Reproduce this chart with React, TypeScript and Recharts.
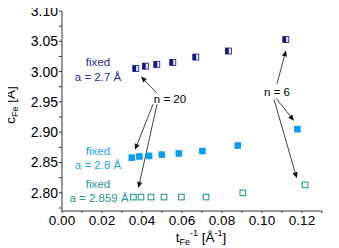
import React from 'react';
import {
  ScatterChart, Scatter, XAxis, YAxis, ReferenceLine, ReferenceDot,
} from 'recharts';

// ---- data ----
const s1X = [0.0369, 0.0417, 0.0474, 0.0554, 0.0669, 0.0832, 0.1119];
const s1Y = [3.005, 3.009, 3.012, 3.015, 3.024, 3.034, 3.053];

const s2X = [0.0349, 0.0387, 0.0435, 0.0499, 0.0584, 0.0702, 0.0879, 0.1177];
const s2Y = [2.858, 2.860, 2.861, 2.863, 2.865, 2.869, 2.878, 2.905];

const s3X = [0.0357, 0.0395, 0.0445, 0.051, 0.0597, 0.072, 0.0904, 0.1215];
const s3Y = [2.793, 2.793, 2.793, 2.793, 2.793, 2.793, 2.800, 2.813];

const xTicks = [0, 0.01, 0.02, 0.03, 0.04, 0.05, 0.06, 0.07, 0.08, 0.09, 0.1, 0.11, 0.12, 0.13];
const yTicks = [2.775, 2.8, 2.825, 2.85, 2.875, 2.9, 2.925, 2.95, 2.975, 3.0, 3.025, 3.05, 3.075, 3.1];

const labelTexts = [
  { x: 0.018, y: 3.0154, text: 'fixed', color: '#1f2a96' },
  { x: 0.018, y: 2.991, text: 'a = 2.7 Å', color: '#1f2a96' },
  { x: 0.018, y: 2.8695, text: 'fixed', color: '#1c9ff0' },
  { x: 0.018, y: 2.8455, text: 'a = 2.8 Å', color: '#1c9ff0' },
  { x: 0.018, y: 2.8148, text: 'fixed', color: '#1f968f' },
  { x: 0.0185, y: 2.7915, text: 'a = 2.859 Å', color: '#1f968f' },
  { x: 0.054, y: 2.955, text: 'n = 20', color: '#000' },
  { x: 0.1075, y: 2.966, text: 'n = 6', color: '#000' },
];

const arrows = [
  { x1: 0.0475, y1: 2.964, x2: 0.0395, y2: 2.992 },
  { x1: 0.0455, y1: 2.946, x2: 0.0365, y2: 2.871 },
  { x1: 0.0475, y1: 2.946, x2: 0.0382, y2: 2.808 },
  { x1: 0.1075, y1: 2.980, x2: 0.112, y2: 3.035 },
  { x1: 0.107, y1: 2.956, x2: 0.116, y2: 2.919 },
  { x1: 0.106, y1: 2.954, x2: 0.1174, y2: 2.824 },
];

const s1 = s1X.map((x, i) => ({ x, y: s1Y[i] }));
const s2 = s2X.map((x, i) => ({ x, y: s2Y[i] }));
const s3 = s3X.map((x, i) => ({ x, y: s3Y[i] }));

const FONT = '"Liberation Sans", Arial, sans-serif';

const HalfSquare = (p: any) => (
  <g>
    <rect x={p.cx - 3} y={p.cy - 3} width={6} height={6} fill="#e6e6ff" stroke="#14148a" strokeWidth={0.8} />
    <rect x={p.cx - 3} y={p.cy - 3} width={3.3} height={6} fill="#14148a" />
  </g>
);
const FilledSquare = (p: any) => (
  <rect x={p.cx - 3.3} y={p.cy - 3.3} width={6.6} height={6.6} fill="#0a9cf7" />
);
const OpenSquare = (p: any) => (
  <rect x={p.cx - 2.8} y={p.cy - 2.8} width={5.6} height={5.6} fill="#fff" stroke="#269a94" strokeWidth={1.1} />
);

const arrowShape = (p: any) => {
  const { x1, y1, x2, y2 } = p;
  const ang = Math.atan2(y2 - y1, x2 - x1);
  const L = 6;
  const W = 2.6;
  const bx = x2 - L * Math.cos(ang);
  const by = y2 - L * Math.sin(ang);
  const nx = -Math.sin(ang);
  const ny = Math.cos(ang);
  return (
    <g>
      <line x1={x1} y1={y1} x2={bx} y2={by} stroke="#111" strokeWidth={0.8} />
      <polygon
        points={`${x2},${y2} ${bx + nx * W},${by + ny * W} ${bx - nx * W},${by - ny * W}`}
        fill="#111"
      />
    </g>
  );
};

const fmtX = (v: number) => (Math.round(v * 100) % 2 === 0 ? v.toFixed(2) : '');
const fmtY = (v: number) => (Math.round(v * 1000) % 50 === 0 ? v.toFixed(2) : '');

export default function App() {
  return (
    <div style={{ width: 339, height: 248, position: 'relative', margin: '-8px 0 0 -8px' }}>
      <ScatterChart width={339} height={248} margin={{ top: 11, right: 17, bottom: 0, left: 8 }}>
        <XAxis
          type="number"
          dataKey="x"
          domain={[0, 0.13]}
          ticks={xTicks}
          interval={0}
          tickFormatter={fmtX}
          height={37}
          tickSize={2}
          tickMargin={2}
          stroke="#333"
          allowDataOverflow
          tick={{ fill: '#000', fontSize: 13.5, fontFamily: FONT }}
        />
        <XAxis
          xAxisId="top"
          orientation="top"
          type="number"
          domain={[0, 0.13]}
          ticks={xTicks}
          interval={0}
          height={0}
          tickSize={2}
          mirror
          tick={false}
          stroke="#333"
          allowDataOverflow
        />
        <YAxis
          type="number"
          dataKey="y"
          domain={[2.77, 3.1]}
          ticks={yTicks}
          interval={0}
          tickFormatter={fmtY}
          width={54}
          tickSize={3}
          tickMargin={1}
          stroke="#333"
          allowDataOverflow
          tick={{ fill: '#000', fontSize: 14, fontFamily: FONT }}
        />
        <YAxis
          yAxisId="right"
          orientation="right"
          type="number"
          domain={[2.77, 3.1]}
          ticks={yTicks}
          interval={0}
          width={0}
          tickSize={2}
          mirror
          tick={false}
          stroke="#333"
          allowDataOverflow
        />
        {arrows.map((a, i) => (
          <ReferenceLine
            key={'a' + i}
            segment={[{ x: a.x1, y: a.y1 }, { x: a.x2, y: a.y2 }]}
            shape={arrowShape}
            ifOverflow="visible"
          />
        ))}
        {labelTexts.map((l, i) => (
          <ReferenceDot
            key={'l' + i}
            x={l.x}
            y={l.y}
            r={1}
            fill="none"
            stroke="none"
            ifOverflow="visible"
            label={{ value: l.text, position: 'center', fill: l.color, fontSize: 11.5, fontFamily: FONT }}
          />
        ))}
        <Scatter data={s1} shape={HalfSquare} isAnimationActive={false} />
        <Scatter data={s2} shape={FilledSquare} isAnimationActive={false} />
        <Scatter data={s3} shape={OpenSquare} isAnimationActive={false} />
      </ScatterChart>
      <svg
        width={339}
        height={248}
        style={{ position: 'absolute', left: 0, top: 0, pointerEvents: 'none' }}
      >
        <text x={201} y={242} textAnchor="middle" fontFamily={FONT} fontSize={13.5} fill="#000">
          t<tspan fontSize={9} dy={3}>Fe</tspan>
          <tspan fontSize={9} dy={-9}>-1</tspan>
          <tspan fontSize={13.5} dy={6}> [Å</tspan>
          <tspan fontSize={9} dy={-6}>-1</tspan>
          <tspan fontSize={13.5} dy={6}>]</tspan>
        </text>
        <text
          x={15}
          y={105}
          transform="rotate(-90, 15, 105)"
          textAnchor="middle"
          fontFamily={FONT}
          fontSize={13.5}
          fill="#000"
        >
          c<tspan fontSize={9} dy={3}>Fe</tspan>
          <tspan fontSize={13.5} dy={-3}> [Å]</tspan>
        </text>
      </svg>
    </div>
  );
}
